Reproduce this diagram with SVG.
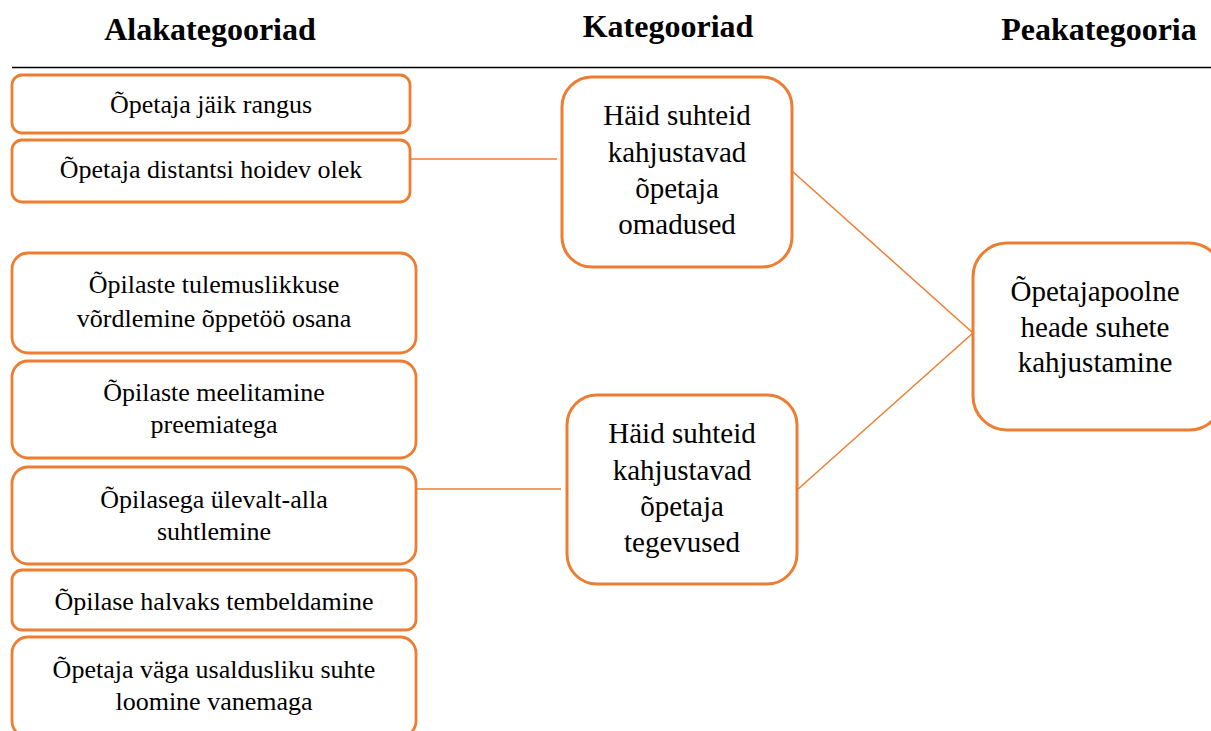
<svg xmlns="http://www.w3.org/2000/svg" width="1211" height="731" viewBox="0 0 1211 731">
  <style>
    .head { font-family: "Liberation Serif", "Times New Roman", serif; font-weight: bold; font-size: 32px; fill: #000; text-anchor: middle; }
    .sub rect { fill: #fff; stroke: #ED7D31; stroke-width: 2.8; }
    .sub text { font-family: "Liberation Serif", "Times New Roman", serif; font-size: 26px; fill: #000; text-anchor: middle; }
    .cat rect { fill: #fff; stroke: #ED7D31; stroke-width: 3; }
    .cat text { font-family: "Liberation Serif", "Times New Roman", serif; font-size: 29px; fill: #000; text-anchor: middle; }
    .links line { stroke: #ED7D31; stroke-width: 1.5; }
  </style>
  <rect width="1211" height="731" fill="#fff"/>

  <!-- column headings -->
  <g id="headings">
    <text class="head" x="210" y="40">Alakategooriad</text>
    <text class="head" x="668" y="37">Kategooriad</text>
    <text class="head" x="1099" y="40">Peakategooria</text>
    <line x1="12" y1="67.5" x2="1211" y2="67.5" stroke="#000" stroke-width="1.5"/>
  </g>

  <!-- connectors -->
  <g id="connectors" class="links">
    <line x1="410" y1="159" x2="557" y2="159"/>
    <line x1="416" y1="489" x2="561" y2="489"/>
    <line x1="792" y1="171" x2="973" y2="333"/>
    <line x1="797" y1="490" x2="973" y2="333"/>
  </g>

  <!-- subcategories -->
  <g id="sub1" class="sub">
    <rect x="12" y="75" width="398" height="58" rx="10"/>
    <text x="211" y="113">Õpetaja jäik rangus</text>
  </g>
  <g id="sub2" class="sub">
    <rect x="12" y="140" width="398" height="62" rx="10"/>
    <text x="211" y="178">Õpetaja distantsi hoidev olek</text>
  </g>
  <g id="sub3" class="sub">
    <rect x="12" y="253" width="404" height="100" rx="16"/>
    <text x="214" y="293">Õpilaste tulemuslikkuse</text>
    <text x="214" y="327">võrdlemine õppetöö osana</text>
  </g>
  <g id="sub4" class="sub">
    <rect x="12" y="361" width="404" height="97" rx="16"/>
    <text x="214" y="401">Õpilaste meelitamine</text>
    <text x="214" y="433">preemiatega</text>
  </g>
  <g id="sub5" class="sub">
    <rect x="12" y="467" width="404" height="97" rx="16"/>
    <text x="214" y="508">Õpilasega ülevalt-alla</text>
    <text x="214" y="540">suhtlemine</text>
  </g>
  <g id="sub6" class="sub">
    <rect x="12" y="570" width="404" height="60" rx="10"/>
    <text x="214" y="610">Õpilase halvaks tembeldamine</text>
  </g>
  <g id="sub7" class="sub">
    <rect x="12" y="637" width="404" height="100" rx="16"/>
    <text x="214" y="678">Õpetaja väga usaldusliku suhte</text>
    <text x="214" y="710">loomine vanemaga</text>
  </g>

  <!-- categories -->
  <g id="cat1" class="cat">
    <rect x="562" y="77" width="230" height="190" rx="30"/>
    <text x="677" y="125">Häid suhteid</text>
    <text x="677" y="162">kahjustavad</text>
    <text x="677" y="198">õpetaja</text>
    <text x="677" y="234">omadused</text>
  </g>
  <g id="cat2" class="cat">
    <rect x="567" y="395" width="230" height="189" rx="30"/>
    <text x="682" y="443">Häid suhteid</text>
    <text x="682" y="480">kahjustavad</text>
    <text x="682" y="516">õpetaja</text>
    <text x="682" y="552">tegevused</text>
  </g>

  <!-- main category -->
  <g id="main" class="cat">
    <rect x="973" y="243" width="250" height="187" rx="34"/>
    <text x="1095" y="301">Õpetajapoolne</text>
    <text x="1095" y="337">heade suhete</text>
    <text x="1095" y="372">kahjustamine</text>
  </g>
</svg>
